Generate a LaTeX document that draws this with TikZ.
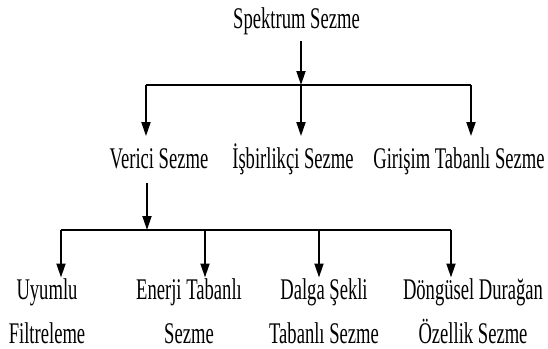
\documentclass[tikz,border=0pt]{standalone}
\usepackage{fontspec}
\setmainfont{Liberation Serif}[FakeStretch=0.62]
\usetikzlibrary{arrows.meta}
\usetikzlibrary{calc}

\begin{document}
\begin{tikzpicture}[x=0.5pt,y=-0.5pt,line width=0.9pt,
                      >={Triangle[length=7pt,width=4.5pt]},
                      term/.style={inner sep=0pt,font=\fontsize{15}{22}\selectfont},
                      sterm/.style={term,anchor=base,text height=10pt,text depth=3pt},
                      mterm/.style={term,anchor=north,align=center},
                      ]
    \useasboundingbox (0,0) rectangle (548,349);

    \node[sterm] (spektrum) at (296.5,28) {Spektrum Sezme};
    \node[sterm] (verici) at (159,168) {Verici Sezme};
    \node[sterm] (isbirlik) at (293,168) {İşbirlikçi Sezme};
    \node[sterm] (girisim) at (459,168) {Girişim Tabanlı Sezme};

    \node[mterm] (uyumlu) at (47,277.5) {Uyumlu\\Filtreleme};
    \node[mterm] (enerji) at (189,277.5) {Enerji Tabanlı\\Sezme};
    \node[mterm] (dalga) at (324,277.5) {Dalga Şekli\\Tabanlı Sezme};
    \node[mterm] (dongu) at (473,277.5) {Döngüsel Durağan\\Özellik Sezme};

    % upper level
    \coordinate (top) at (301,85);
    \coordinate (a1) at (146,85);
    \coordinate (a3) at (471,85);
    \draw[->,shorten <=3pt] (spektrum.south -| top) -- (top);
    \draw (a1) -- (a3);
    \draw[->,shorten >=5.5pt] (a1) -- (a1 |- verici.north);
    \draw[->,shorten >=5.5pt] (top) -- (top |- isbirlik.north);
    \draw[->,shorten >=5.5pt] (a3) -- (a3 |- girisim.north);

    % lower level
    \coordinate (mid) at (147,230);
    \coordinate (b1) at (61,230);
    \coordinate (b2) at (205,230);
    \coordinate (b3) at (319,230);
    \coordinate (b4) at (451,230);
    \draw[->,shorten <=4pt] (verici.south -| mid) -- (mid);
    \draw (b1) -- (b4);
    \draw[->] (b1) -- (b1 |- uyumlu.north);
    \draw[->] (b2) -- (b2 |- enerji.north);
    \draw[->] (b3) -- (b3 |- dalga.north);
    \draw[->] (b4) -- (b4 |- dongu.north);
\end{tikzpicture}
\end{document}
